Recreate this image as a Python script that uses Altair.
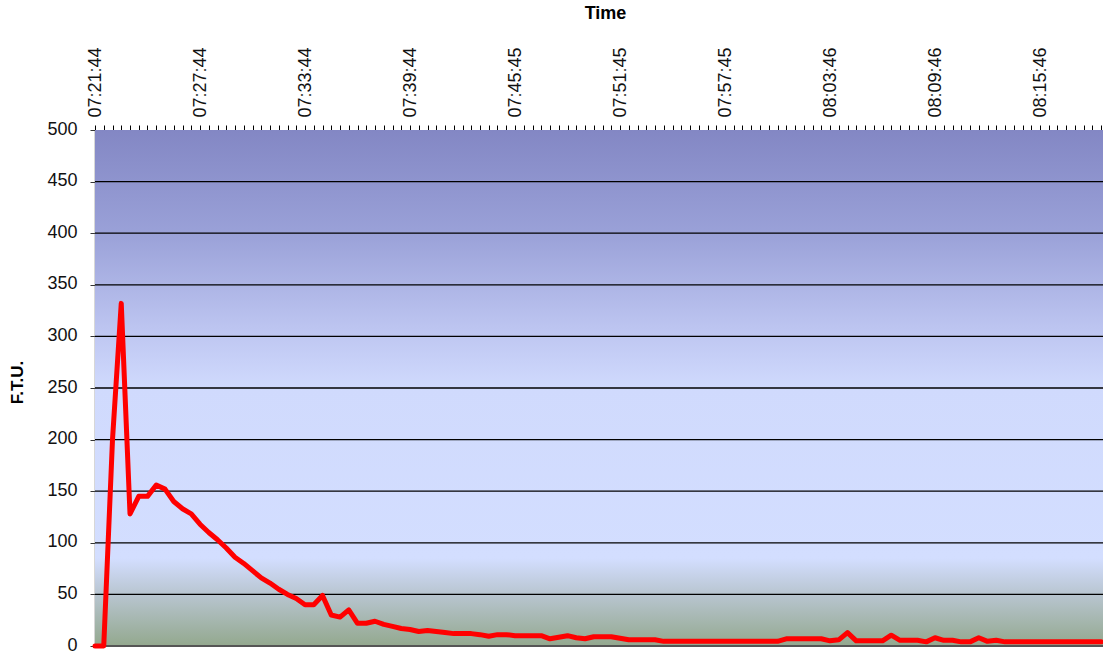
import altair as alt
import pandas as pd

# F.T.U. readings, one every 30 s starting 07:21:44
FTU = [0, 0, 200, 332, 128, 145, 145, 156, 152, 140,
       133, 128, 118, 110, 103, 95, 86, 80, 73, 66,
       61, 55, 50, 46, 40, 40, 49, 30, 28, 35,
       22, 22, 24, 21, 19, 17, 16, 14, 15, 14,
       13, 12, 12, 12, 11, 9.5, 11, 11, 10, 10,
       10, 10, 7, 8.5, 10, 8, 7, 9, 9, 9,
       7.5, 6, 6, 6, 6, 4.5, 4.5, 4.5, 4.5, 4.5,
       4.5, 4.5, 4.5, 4.5, 4.5, 4.5, 4.5, 4.5, 4.5, 7,
       7, 7, 7, 7, 5, 6, 13, 5, 5, 5,
       5, 10.5, 5.5, 5.5, 5.5, 4, 8, 5.5, 5.5, 4,
       4, 8, 4.5, 5.5, 4, 4, 4, 4, 4, 4,
       4, 4, 4, 4, 4, 4]

TICK_LABELS = ["07:21:44", "07:27:44", "07:33:44", "07:39:44", "07:45:45",
               "07:51:45", "07:57:45", "08:03:46", "08:09:46", "08:15:46"]
LABEL_EVERY = 12
Y_TICKS = [0, 50, 100, 150, 200, 250, 300, 350, 400, 450, 500]

W, H = 1008, 516
FONT = "Liberation Sans"

df = pd.DataFrame({"i": list(range(len(FTU))), "ftu": FTU})

label_arr = "[" + ",".join("'%s'" % s for s in TICK_LABELS) + "]"
label_expr = "datum.value %% %d == 0 ? %s[datum.value / %d] : ''" % (LABEL_EVERY, label_arr, LABEL_EVERY)

x_scale = alt.Scale(domain=[0, 115.2], nice=False, zero=False)
y_scale = alt.Scale(domain=[0, 500], nice=False)

y_axis = alt.Axis(
    orient="left", values=Y_TICKS, labelPadding=13, labelFontSize=18,
    labelFont=FONT, labelColor="#111111", tickSize=5, tickColor="#333333",
    labelOffset=-1,
    domainColor="#606060", domainWidth=1.5, grid=False,
    title="F.T.U.", titleFont=FONT, titleFontSize=17, titleFontWeight="bold",
    titleColor="#000000", titleX=-78, titleY=252, titleBaseline="middle",
    titleAngle=-90,
)

x_axis = alt.Axis(
    orient="top", values=list(range(len(FTU))), labelExpr=label_expr,
    labelAngle=-90, labelPadding=8, labelFontSize=18, labelFont=FONT,
    labelColor="#111111", labelOverlap=False, labelFlush=False,
    tickSize=5, tickColor="#000000", tickWidth=1,
    domainColor="#000000", domainWidth=1, grid=False,
    title="Time", titleFont=FONT, titleFontSize=18, titleFontWeight="bold",
    titleColor="#000000", titleX=510, titleY=-117, titleBaseline="middle",
    titleAngle=0,
)

bg = alt.Chart(pd.DataFrame({"a": [0]})).mark_rect(
    color=alt.LinearGradient(
        gradient="linear", x1=0, y1=0, x2=0, y2=1,
        stops=[
            alt.GradientStop(color="#8387C4", offset=0),
            alt.GradientStop(color="#9AA1D8", offset=0.2),
            alt.GradientStop(color="#BCC4F0", offset=0.38),
            alt.GradientStop(color="#D0DAFD", offset=0.5),
            alt.GradientStop(color="#D3DEFF", offset=0.83),
            alt.GradientStop(color="#B8C5D0", offset=0.9),
            alt.GradientStop(color="#93A88E", offset=1),
        ],
    )
).encode(x=alt.value(0), x2=alt.value(W), y=alt.value(0), y2=alt.value(H))

grid = alt.Chart(pd.DataFrame({"v": Y_TICKS[1:-1]})).mark_rule(
    color="#000000", strokeWidth=1.3
).encode(y=alt.Y("v:Q", scale=y_scale, axis=y_axis))

base_line = alt.Chart(pd.DataFrame({"v": [Y_TICKS[0]]})).mark_rule(
    color="#555555", strokeWidth=2
).encode(y=alt.Y("v:Q", scale=y_scale, axis=y_axis))

line = alt.Chart(df).mark_line(
    color="#FF0000", strokeWidth=5, strokeJoin="round", strokeCap="round"
).encode(
    x=alt.X("i:Q", scale=x_scale, axis=x_axis),
    y=alt.Y("ftu:Q", scale=y_scale, axis=y_axis),
)

chart = alt.layer(bg, grid, base_line, line).properties(
    width=W, height=H,
    autosize=alt.AutoSizeParams(type="none"),
    padding={"left": 95, "top": 130, "right": 0, "bottom": 7},
    background="#FFFFFF",
).configure_view(stroke=None)

chart.save("out.html", embed_options={"renderer": "svg", "actions": False})
